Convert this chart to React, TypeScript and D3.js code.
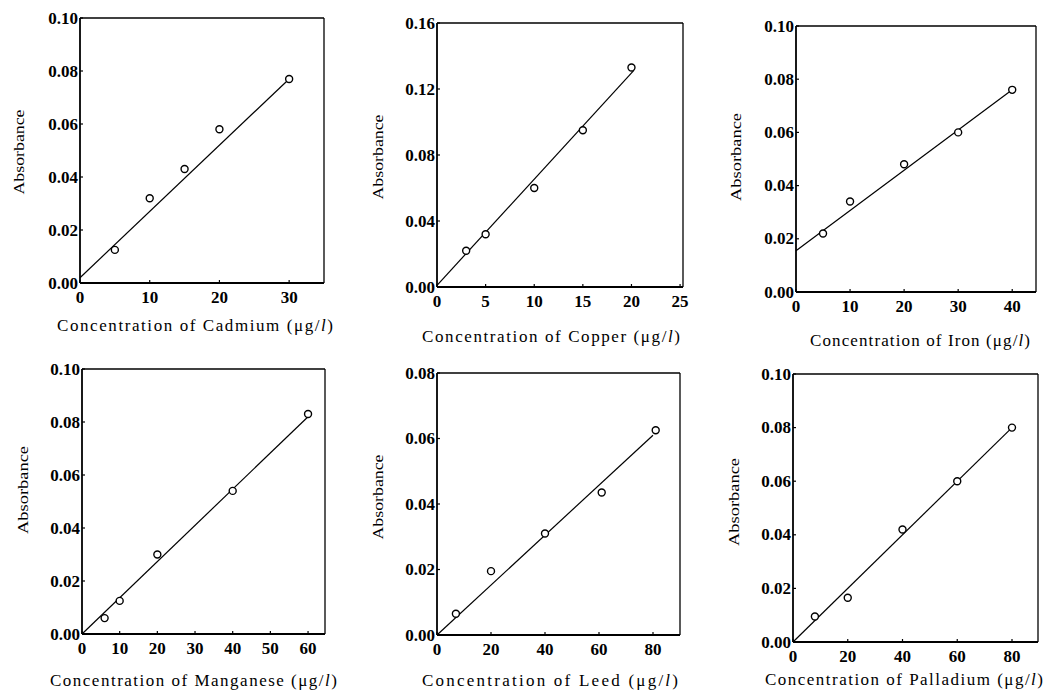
import * as d3 from 'd3';
import React from 'react';

const cadmiumConc = [5, 10, 15, 20, 30];
const cadmiumAbs = [0.0125, 0.032, 0.043, 0.058, 0.077];
const cadmiumFit = [[0, 0.002], [30, 0.077]];

const copperConc = [3, 5, 10, 15, 20];
const copperAbs = [0.022, 0.032, 0.06, 0.095, 0.133];
const copperFit = [[0, 0.001], [20.2, 0.131]];

const ironConc = [5, 10, 20, 30, 40];
const ironAbs = [0.022, 0.034, 0.048, 0.06, 0.076];
const ironFit = [[0, 0.0155], [40, 0.076]];

const manganeseConc = [6, 10, 20, 40, 60];
const manganeseAbs = [0.006, 0.0125, 0.03, 0.054, 0.083];
const manganeseFit = [[0, 0], [60, 0.082]];

const leedConc = [7, 20, 40, 61, 81];
const leedAbs = [0.0065, 0.0195, 0.031, 0.0435, 0.0625];
const leedFit = [[0, 0], [80, 0.061]];

const palladiumConc = [8, 20, 40, 60, 80];
const palladiumAbs = [0.0095, 0.0165, 0.042, 0.06, 0.08];
const palladiumFit = [[0, 0], [80, 0.08]];

const ticksX10 = [0, 10, 20, 30];
const ticksX5 = [0, 5, 10, 15, 20, 25];
const ticksX40 = [0, 10, 20, 30, 40];
const ticksX60 = [0, 10, 20, 30, 40, 50, 60];
const ticksX80 = [0, 20, 40, 60, 80];
const ticksY10 = [0, 0.02, 0.04, 0.06, 0.08, 0.1];
const ticksY16 = [0, 0.04, 0.08, 0.12, 0.16];
const ticksY08 = [0, 0.02, 0.04, 0.06, 0.08];

const metals = ['Cadmium', 'Copper', 'Iron', 'Manganese', 'Leed', 'Palladium'];

const panels = [
  { name: metals[0], xs: cadmiumConc, ys: cadmiumAbs, fit: cadmiumFit, xd: [0, 35], yd: [0, 0.1], xt: ticksX10, yt: ticksY10,
    box: [80, 18, 324, 283], title: [57, 333, 326], ylab: [19, 152, 85] },
  { name: metals[1], xs: copperConc, ys: copperAbs, fit: copperFit, xd: [0, 25.3], yd: [0, 0.16], xt: ticksX5, yt: ticksY16,
    box: [437, 23, 683, 287], title: [422, 680, 337], ylab: [378, 157, 85] },
  { name: metals[2], xs: ironConc, ys: ironAbs, fit: ironFit, xd: [0, 44.4], yd: [0, 0.1], xt: ticksX40, yt: ticksY10,
    box: [796, 26, 1036, 292], title: [810, 1030, 341], ylab: [736, 157, 88] },
  { name: metals[3], xs: manganeseConc, ys: manganeseAbs, fit: manganeseFit, xd: [0, 64.5], yd: [0, 0.1], xt: ticksX60, yt: ticksY10,
    box: [82, 369, 325, 634], title: [50, 337, 681], ylab: [23, 490, 88] },
  { name: metals[4], xs: leedConc, ys: leedAbs, fit: leedFit, xd: [0, 90], yd: [0, 0.08], xt: ticksX80, yt: ticksY08,
    box: [437, 373, 680, 635], title: [422, 678, 681], ylab: [378, 497, 85] },
  { name: metals[5], xs: palladiumConc, ys: palladiumAbs, fit: palladiumFit, xd: [0, 89.5], yd: [0, 0.1], xt: ticksX80, yt: ticksY10,
    box: [793, 374, 1038, 642], title: [765, 1043, 680], ylab: [734, 502, 88] },
];

const font = '"Liberation Serif", "DejaVu Serif", serif';

const Panel = ({ p }: { p: any }) => {
  const [l, t, r, b] = p.box;
  const x = d3.scaleLinear().domain(p.xd).range([l, r]);
  const y = d3.scaleLinear().domain(p.yd).range([b, t]);
  const fmt = d3.format('.2f');
  const line = d3.line<number[]>().x(d => x(d[0])).y(d => y(d[1]));
  return (
    <g>
      <line x1={l} y1={t} x2={r} y2={t} stroke="#000" strokeWidth={1.3} />
      <line x1={r} y1={t} x2={r} y2={b} stroke="#000" strokeWidth={1.3} />
      <line x1={l} y1={t} x2={l} y2={b} stroke="#000" strokeWidth={1.8} />
      <line x1={l} y1={b} x2={r} y2={b} stroke="#000" strokeWidth={1.8} />
      {p.yt.map((v: number) => (
        <g key={'y' + v}>
          <line x1={l} x2={l + 3} y1={y(v)} y2={y(v)} stroke="#000" strokeWidth={1.2} />
          <text x={l - 2} y={y(v) + 5.5} textAnchor="end" fontSize={17} fontWeight="bold" fontFamily={font}>
            {fmt(v)}
          </text>
        </g>
      ))}
      {p.xt.map((v: number) => (
        <g key={'x' + v}>
          <line x1={x(v)} x2={x(v)} y1={b} y2={b - 3} stroke="#000" strokeWidth={1.2} />
          <text x={x(v)} y={b + 20} textAnchor="middle" fontSize={17} fontWeight="bold" fontFamily={font}>
            {v}
          </text>
        </g>
      ))}
      <path d={line(p.fit) || ''} fill="none" stroke="#000" strokeWidth={1.2} />
      {p.xs.map((v: number, i: number) => (
        <circle key={i} cx={x(v)} cy={y(p.ys[i])} r={3.5} fill="#fff" stroke="#000" strokeWidth={1.4} />
      ))}
      <text
        transform={`translate(${p.ylab[0]},${p.ylab[1]}) rotate(-90)`}
        textAnchor="middle"
        dy="0.35em"
        fontSize={15}
        fontFamily={font}
        textLength={p.ylab[2]}
        lengthAdjust="spacingAndGlyphs"
      >
        Absorbance
      </text>
      <text
        x={p.title[0]}
        y={p.title[2] + 5}
        fontSize={17}
        fontFamily={font}
        textLength={p.title[1] - p.title[0]}
        lengthAdjust="spacing"
      >
        {`Concentration of ${p.name} (μg/`}
        <tspan fontStyle="italic">l</tspan>
        {')'}
      </text>
    </g>
  );
};

export default function App() {
  return (
    <div style={{ position: 'absolute', left: 0, top: 0 }}>
      <svg width={1044} height={694} style={{ display: 'block', background: '#fff' }}>
        {panels.map(p => (
          <Panel key={p.name} p={p} />
        ))}
      </svg>
    </div>
  );
}
